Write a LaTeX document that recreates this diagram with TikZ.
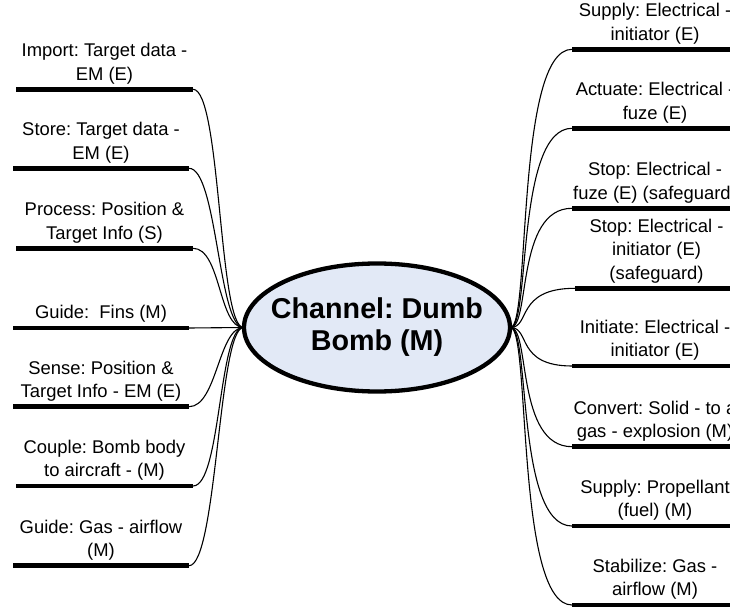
\documentclass[tikz,border=0pt]{standalone}
\usepackage{fontspec}
\setmainfont{Liberation Sans}
\usetikzlibrary{calc}
\definecolor{hubfill}{RGB}{226,233,246}
\tikzset{
  bar/.style={line width=4.5pt},
  conn/.style={line width=1.1pt},
  lbl/.style={font={\fontsize{18.4}{23.3}\selectfont\frenchspacing}, align=center, inner sep=0pt, anchor=south},
  hubline/.style={draw, line width=4.3pt, fill=hubfill},
  hubtext/.style={inner sep=0pt, align=center, font={\fontsize{28.7}{32}\selectfont\bfseries\frenchspacing}}
}
\begin{document}
\begin{tikzpicture}[x=1pt,y=-1pt]
\useasboundingbox (0,0) rectangle (730,609);
\clip (0,0) rectangle (730,609);
% left bars
\coordinate (Ls1) at (16,89.3);  \coordinate (Le1) at (193,89.3);
\coordinate (Ls2) at (13,168.3); \coordinate (Le2) at (189,168.3);
\coordinate (Ls3) at (16,248.3); \coordinate (Le3) at (193,248.3);
\coordinate (Ls4) at (13,328);   \coordinate (Le4) at (189,328);
\coordinate (Ls5) at (13,406.7); \coordinate (Le5) at (189,406.7);
\coordinate (Ls6) at (16,486);   \coordinate (Le6) at (193,486);
\coordinate (Ls7) at (13,565.7); \coordinate (Le7) at (189,565.7);
% right bars
\coordinate (Rs1) at (572,49.3);  \coordinate (Re1) at (738,49.3);
\coordinate (Rs2) at (572,128.3); \coordinate (Re2) at (738,128.3);
\coordinate (Rs3) at (572,208.3); \coordinate (Re3) at (738,208.3);
\coordinate (Rs4) at (575,288.3); \coordinate (Re4) at (738,288.3);
\coordinate (Rs5) at (572,366);   \coordinate (Re5) at (738,366);
\coordinate (Rs6) at (572,446.7); \coordinate (Re6) at (738,446.7);
\coordinate (Rs7) at (572,526);   \coordinate (Re7) at (738,526);
\coordinate (Rs8) at (572,605);   \coordinate (Re8) at (738,605);

% hub
\coordinate (hubC) at (377,327.5);
\coordinate (hubW) at (243.5,327.5);
\coordinate (hubE) at (510.5,327.5);

% connectors
\foreach \i in {1,2,3,5,6,7}{
  \draw[conn] (Le\i) .. controls ($(Le\i)+(28,0)$) and ($(hubW)+(-25,0)$) .. (hubW);
}
\draw[conn] (Le4) -- (hubW);
\foreach \i in {1,...,8}{
  \draw[conn] (hubE) .. controls ($(hubE)+(20,0)$) and ($(hubE |- Rs\i)+(5,0)$) .. (Rs\i);
}
\path[hubline] (hubC) ellipse [x radius=133, y radius=64];
\node[hubtext] (hub) at (hubC) {Channel: Dumb\\Bomb (M)};

% bars
\foreach \i in {1,...,7}{ \draw[bar] (Ls\i) -- (Le\i); }
\foreach \i in {1,...,8}{ \draw[bar] (Rs\i) -- (Re\i); }

% left labels
\node[lbl] (Lt1) at ($(Ls1)!0.5!(Le1)+(0,-5)$) {Import: Target data -\\EM (E)};
\node[lbl] (Lt2) at ($(Ls2)!0.5!(Le2)+(0,-5)$) {Store: Target data -\\EM (E)};
\node[lbl] (Lt3) at ($(Ls3)!0.5!(Le3)+(0,-5)$) {Process: Position \&\\Target Info (S)};
\node[lbl] (Lt4) at ($(Ls4)!0.5!(Le4)+(0,-5)$) {Guide:~ Fins (M)};
\node[lbl] (Lt5) at ($(Ls5)!0.5!(Le5)+(0,-5)$) {Sense: Position \&\\Target Info - EM (E)};
\node[lbl] (Lt6) at ($(Ls6)!0.5!(Le6)+(0,-5)$) {Couple: Bomb body\\to aircraft - (M)};
\node[lbl] (Lt7) at ($(Ls7)!0.5!(Le7)+(0,-5)$) {Guide: Gas - airflow\\(M)};
% right labels
\node[lbl] (Rt1) at ($(Rs1)!0.5!(Re1)+(0,-5)$) {Supply: Electrical -\\initiator (E)};
\node[lbl] (Rt2) at ($(Rs2)!0.5!(Re2)+(0,-5)$) {Actuate: Electrical -\\fuze (E)};
\node[lbl] (Rt3) at ($(Rs3)!0.5!(Re3)+(0,-5)$) {Stop: Electrical -\\fuze (E) (safeguard)};
\node[lbl] (Rt4) at ($(Rs4)!0.5!(Re4)+(0,-5)$) {Stop: Electrical -\\initiator (E)\\(safeguard)};
\node[lbl] (Rt5) at ($(Rs5)!0.5!(Re5)+(0,-5)$) {Initiate: Electrical -\\initiator (E)};
\node[lbl] (Rt6) at ($(Rs6)!0.5!(Re6)+(0,-5)$) {Convert: Solid - to a\\gas - explosion (M)};
\node[lbl] (Rt7) at ($(Rs7)!0.5!(Re7)+(0,-5)$) {Supply: Propellant\\(fuel) (M)};
\node[lbl] (Rt8) at ($(Rs8)!0.5!(Re8)+(0,-5)$) {Stabilize: Gas -\\airflow (M)};
\end{tikzpicture}
\end{document}
